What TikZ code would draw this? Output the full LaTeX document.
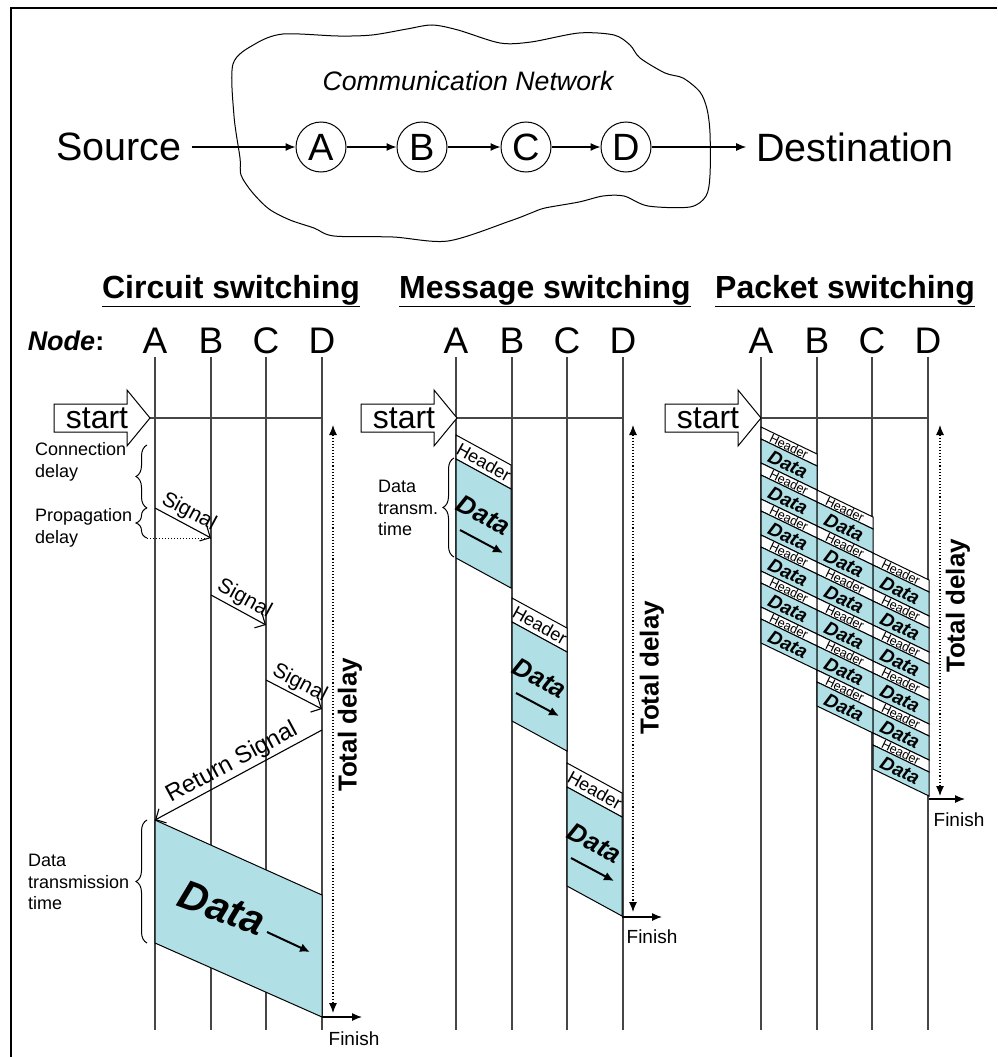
\documentclass[tikz,border=0pt]{standalone}
\usepackage{fontspec}
\setmainfont{Liberation Sans}
\usepackage{tikz}
\usetikzlibrary{arrows.meta,positioning,calc,decorations.pathreplacing}
\definecolor{datacyan}{RGB}{176,224,230}
\definecolor{lanegray}{RGB}{70,70,70}

\begin{document}
\begin{tikzpicture}[
    x=1pt, y=-1pt,
    lane/.style={draw=lanegray, line width=1.1pt},
    arrow/.style={-{Latex[length=10pt,width=8pt]}, line width=1.2pt},
    thickarrow/.style={-{Latex[length=10pt,width=9pt]}, line width=2pt},
    signal/.style={-{Straight Barb[length=8pt,width=16pt]}, line width=1.1pt},
    delay/.style={{Latex[length=10pt,width=8pt]}-{Latex[length=10pt,width=8pt]}, dotted, line width=1.1pt},
    brace/.style={decorate, decoration={brace, amplitude=11pt}, line width=1pt},
    hop/.style={circle, draw, line width=1pt, minimum size=50pt, inner sep=0pt, font=\fontsize{38}{40}\selectfont},
    endpoint/.style={inner sep=5pt, outer sep=5pt, font=\fontsize{39.5}{42}\selectfont},
    title/.style={inner sep=0pt, font=\fontsize{32}{36}\selectfont\bfseries},
    colhead/.style={inner sep=0pt, font=\fontsize{37}{40}\selectfont},
    note/.style={inner sep=0pt, anchor=west, align=left, font=\fontsize{18}{21.5}\selectfont},
    total/.style={inner sep=0pt, rotate=90, font=\fontsize{26}{30}\selectfont\bfseries},
    finish/.style={inner sep=0pt, font=\fontsize{19}{22}\selectfont},
    startbox/.style={draw, line width=1pt, fill=white},
    header/.style={draw, line width=1pt, fill=white},
    payload/.style={draw, line width=1pt, fill=datacyan},
    sigtext/.style={inner sep=2pt, font=\fontsize{21}{24}\selectfont},
    msheader/.style={inner sep=0pt, rotate=-29, font=\fontsize{18}{20}\selectfont},
    msdata/.style={inner sep=0pt, rotate=-28, font=\fontsize{26}{28}\selectfont\bfseries\itshape},
    psheader/.style={inner sep=0pt, rotate=-26, font=\fontsize{12.5}{14}\selectfont},
    psdata/.style={inner sep=0pt, rotate=-26, font=\fontsize{19}{20}\selectfont\bfseries\itshape}
]
    \useasboundingbox (0,0) rectangle (997,1057);
    \draw[line width=2.5pt] (11,1057) -- (11,8) -- (997,8);

    % network
    \draw[line width=1pt] plot[smooth cycle, tension=0.5] coordinates {
        (233,64) (255,44) (283,34) (338,36) (372,35) (407,29) (432,25) (458,30)
        (500,43) (531,42) (579,33) (614,35) (630,45) (640,58) (665,73) (683,78)
        (700,92) (707,109) (710,133) (710,175) (706,196) (690,207) (648,206)
        (624,196) (603,196) (579,202) (545,208) (531,213) (510,221) (448,241)
        (393,237) (334,236) (314,228) (290,220) (269,209) (252,192) (241,175)
        (240,158) (234,116)};
    \node[font=\fontsize{26.7}{30}\selectfont\itshape] (cloud) at (468,81) {Communication Network};
    \node[endpoint] (src) at (119,147) {Source};
    \node[hop] (nA) at (321,147) {A};
    \node[hop] (nB) at (422,147) {B};
    \node[hop] (nC) at (526,147) {C};
    \node[hop] (nD) at (626,147) {D};
    \node[endpoint] (dst) at (855,147) {Destination};
    \draw[arrow] (src) -- (nA);
    \draw[arrow] (nA) -- (nB);
    \draw[arrow] (nB) -- (nC);
    \draw[arrow] (nC) -- (nD);
    \draw[arrow] (nD) -- (dst);

    % titles and lanes
    \node[title] (csTitle) at (231,291) {\underline{Circuit switching}};
    \node[title] (msTitle) at (545,291) {\underline{Message switching}};
    \node[title] (psTitle) at (845,291) {\underline{Packet switching}};
    \node[inner sep=0pt, font=\fontsize{27}{30}\selectfont\bfseries] (nodeLbl) at (66,341) {\itshape Node\upshape:};
    \foreach \pre/\xa in {cs/155, ms/456, ps/761} {
        \foreach \n/\dx in {A/0, B/56, C/111, D/167} {
            \node[colhead] (\pre\n) at (\xa+\dx,341) {\n};
            \draw[lane] (\xa+\dx,357) -- (\xa+\dx,1030);
        }
    }
    \foreach \pre/\tipx/\dx in {cs/150/322, ms/457/622, ps/761/929} {
        \draw[lanegray, line width=1.1pt] (\tipx,418) -- (\dx,418);
        \draw[startbox] (\tipx-96,404) -- (\tipx-23,404) -- (\tipx-23,390) -- (\tipx,418)
            -- (\tipx-23,446) -- (\tipx-23,432) -- (\tipx-96,432) -- cycle;
        \node[inner sep=0pt, font=\fontsize{32}{34}\selectfont] (\pre Start) at (\tipx-53,418) {start};
    }

    % circuit switching
    \draw[brace] (147,508) -- (147,445);
    \draw[brace] (147,538) -- (147,508);
    \draw[dotted, line width=1pt] (147,538) -- (211,538);
    \node[note] (connDelay) at (35,462) {Connection\\delay};
    \node[note] (propDelay) at (35,528) {Propagation\\delay};
    \draw[signal] (155,508) -- node[sigtext, sloped, above] {Signal} (211,538);
    \draw[signal] (211,595) -- node[sigtext, sloped, above] {Signal} (266,625);
    \draw[signal] (266,680) -- node[sigtext, sloped, above] {Signal} (322,709);
    \draw[signal] (322,730) -- node[sigtext, sloped, above, font=\fontsize{24}{26}\selectfont] {Return Signal} (155,820);
    \draw[payload] (155,820) -- (322,895) -- (322,1017) -- (155,943) -- cycle;
    \node[inner sep=0pt, rotate=-20, font=\fontsize{41}{44}\selectfont\bfseries\itshape] (csData) at (222,908) {Data};
    \draw[thickarrow] (267,932) -- (310,952);
    \draw[brace] (147,943) -- (147,820);
    \node[note] (csTxTime) at (28,882) {Data\\transmission\\time};
    \draw[delay] (333,425) -- (333,1013);
    \node[total] (csTotal) at (350,725) {Total delay};
    \draw[arrow] (322,1017) -- (362,1017);
    \node[finish] (csFinish) at (354,1039) {Finish};

    % message switching
    \foreach \k/\L/\py in {1/456/435, 2/512/598, 3/567/763} {
        \draw[header] (\L,\py) -- (\L+55,\py+30) -- (\L+55,\py+54) -- (\L,\py+24) -- cycle;
        \draw[payload] (\L,\py+24) -- (\L+55,\py+54) -- (\L+55,\py+153) -- (\L,\py+123) -- cycle;
        \node[msheader] (msHdr\k) at (\L+28,\py+27) {Header};
        \node[msdata] (msData\k) at (\L+28,\py+80) {Data};
        \draw[thickarrow] (\L+4,\py+95) -- (\L+47,\py+118);
    }
    \draw[brace] (454,557) -- (454,458);
    \node[note] (msTxTime) at (378,508) {Data\\transm.\\time};
    \draw[delay] (633,425) -- (633,912);
    \node[total] (msTotal) at (652,668) {Total delay};
    \draw[arrow] (622,917) -- (662,917);
    \node[finish] (msFinish) at (652,937) {Finish};

    % packet switching
    \foreach \c/\L in {0/761, 1/817, 2/873} {
        \foreach \k in {0,...,5} {
            \pgfmathsetmacro{\py}{427+63*\c+36*\k}
            \draw[header] (\L,\py) -- (\L+56,\py+27) -- (\L+56,\py+39) -- (\L,\py+12) -- cycle;
            \draw[payload] (\L,\py+12) -- (\L+56,\py+39) -- (\L+56,\py+63) -- (\L,\py+36) -- cycle;
            \node[psheader] at (\L+28,\py+19.5) {Header};
            \node[psdata] at (\L+27,\py+37.5) {Data};
        }
    }
    \draw[delay] (940,425) -- (940,796);
    \node[total] (psTotal) at (958,606) {Total delay};
    \draw[arrow] (929,799) -- (965,799);
    \node[finish] (psFinish) at (959,820) {Finish};
\end{tikzpicture}
\end{document}
